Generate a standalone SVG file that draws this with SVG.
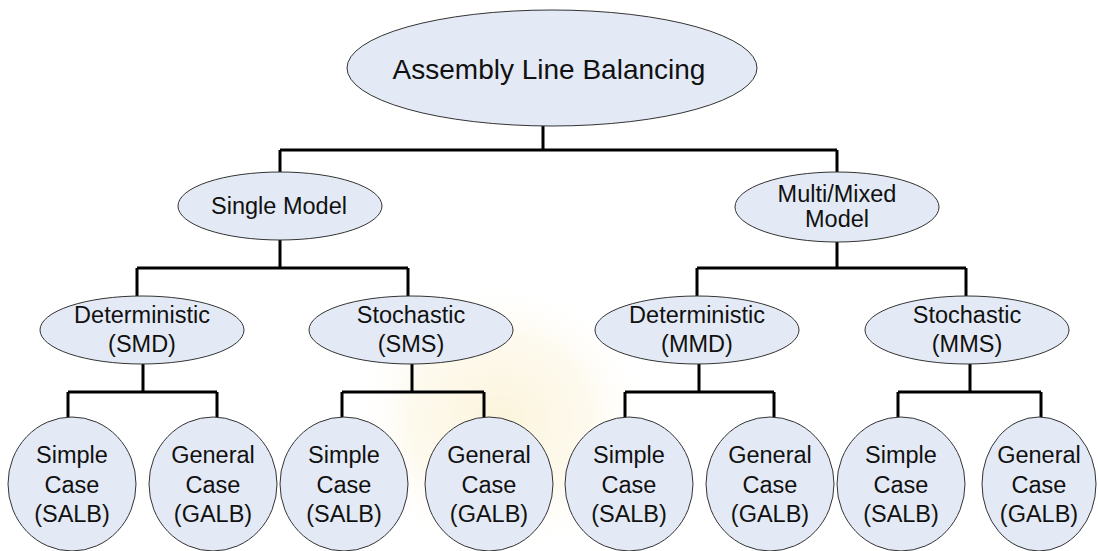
<svg xmlns="http://www.w3.org/2000/svg" width="1098" height="551" viewBox="0 0 1098 551">
  <style>
    .node { fill: #e4eaf5; stroke: #333333; stroke-width: 1; }
    .lbl { font-family: "Liberation Sans", Arial, sans-serif; font-size: 23.5px; fill: #111111; text-anchor: middle; }
    .title { font-size: 28px; }
    .wire { fill: none; stroke: #000000; stroke-width: 3; stroke-linecap: butt; stroke-linejoin: miter; }
  </style>
  <defs>
    <radialGradient id="seal-glow" cx="0.5" cy="0.5" r="0.5">
      <stop offset="0" stop-color="#fbf3d8" stop-opacity="0.9"/>
      <stop offset="0.6" stop-color="#fcf5df" stop-opacity="0.55"/>
      <stop offset="1" stop-color="#ffffff" stop-opacity="0"/>
    </radialGradient>
  </defs>
  <rect width="1098" height="551" fill="#ffffff"/>
  <!-- faint background seal -->
  <ellipse cx="500" cy="420" rx="150" ry="140" fill="url(#seal-glow)"/>

  <!-- connectors -->
  <g id="connectors" class="wire">
    <path d="M543 126 V150 M280 150 H837 M280 150 V173 M837 150 V173"/>
    <path d="M280 240 V268 M137 268 H408 M137 268 V296 M408 268 V296"/>
    <path d="M837 242 V268 M697 268 H966 M697 268 V296 M966 268 V296"/>
    <path d="M143 364 V392 M68 392 H217 M68 392 V417 M217 392 V417"/>
    <path d="M412 364 V392 M342 392 H484 M342 392 V417 M484 392 V417"/>
    <path d="M699 364 V392 M625 392 H774 M625 392 V417 M774 392 V417"/>
    <path d="M970 364 V392 M898 392 H1041 M898 392 V417 M1041 392 V417"/>
  </g>

  <!-- root -->
  <g id="alb">
    <ellipse class="node" cx="552" cy="68" rx="205" ry="58"/>
    <text class="lbl title" x="549" y="79">Assembly Line Balancing</text>
  </g>

  <!-- model type -->
  <g id="single-model">
    <ellipse class="node" cx="280" cy="206" rx="102" ry="34"/>
    <text class="lbl" x="279" y="214">Single Model</text>
  </g>
  <g id="multi-mixed-model">
    <ellipse class="node" cx="837" cy="207" rx="102" ry="35"/>
    <text class="lbl" x="837" y="202">Multi/Mixed</text>
    <text class="lbl" x="837" y="227">Model</text>
  </g>

  <!-- problem nature -->
  <g id="smd">
    <ellipse class="node" cx="142" cy="330" rx="102" ry="34"/>
    <text class="lbl" x="142" y="323">Deterministic</text>
    <text class="lbl" x="142" y="352">(SMD)</text>
  </g>
  <g id="sms">
    <ellipse class="node" cx="411" cy="330" rx="102" ry="34"/>
    <text class="lbl" x="411" y="323">Stochastic</text>
    <text class="lbl" x="411" y="352">(SMS)</text>
  </g>
  <g id="mmd">
    <ellipse class="node" cx="697" cy="330" rx="102" ry="34"/>
    <text class="lbl" x="697" y="323">Deterministic</text>
    <text class="lbl" x="697" y="352">(MMD)</text>
  </g>
  <g id="mms">
    <ellipse class="node" cx="967" cy="330" rx="102" ry="34"/>
    <text class="lbl" x="967" y="323">Stochastic</text>
    <text class="lbl" x="967" y="352">(MMS)</text>
  </g>

  <!-- cases -->
  <g id="smd-salb">
    <ellipse class="node" cx="72" cy="484" rx="64" ry="67"/>
    <text class="lbl" x="72" y="463">Simple</text>
    <text class="lbl" x="72" y="493">Case</text>
    <text class="lbl" x="72" y="522">(SALB)</text>
  </g>
  <g id="smd-galb">
    <ellipse class="node" cx="213" cy="484" rx="64" ry="67"/>
    <text class="lbl" x="213" y="463">General</text>
    <text class="lbl" x="213" y="493">Case</text>
    <text class="lbl" x="213" y="522">(GALB)</text>
  </g>
  <g id="sms-salb">
    <ellipse class="node" cx="344" cy="484" rx="64" ry="67"/>
    <text class="lbl" x="344" y="463">Simple</text>
    <text class="lbl" x="344" y="493">Case</text>
    <text class="lbl" x="344" y="522">(SALB)</text>
  </g>
  <g id="sms-galb">
    <ellipse class="node" cx="489" cy="484" rx="64" ry="67"/>
    <text class="lbl" x="489" y="463">General</text>
    <text class="lbl" x="489" y="493">Case</text>
    <text class="lbl" x="489" y="522">(GALB)</text>
  </g>
  <g id="mmd-salb">
    <ellipse class="node" cx="629" cy="484" rx="64" ry="67"/>
    <text class="lbl" x="629" y="463">Simple</text>
    <text class="lbl" x="629" y="493">Case</text>
    <text class="lbl" x="629" y="522">(SALB)</text>
  </g>
  <g id="mmd-galb">
    <ellipse class="node" cx="770" cy="484" rx="64" ry="67"/>
    <text class="lbl" x="770" y="463">General</text>
    <text class="lbl" x="770" y="493">Case</text>
    <text class="lbl" x="770" y="522">(GALB)</text>
  </g>
  <g id="mms-salb">
    <ellipse class="node" cx="901" cy="484" rx="64" ry="67"/>
    <text class="lbl" x="901" y="463">Simple</text>
    <text class="lbl" x="901" y="493">Case</text>
    <text class="lbl" x="901" y="522">(SALB)</text>
  </g>
  <g id="mms-galb">
    <ellipse class="node" cx="1039" cy="484" rx="57" ry="67"/>
    <text class="lbl" x="1039" y="463">General</text>
    <text class="lbl" x="1039" y="493">Case</text>
    <text class="lbl" x="1039" y="522">(GALB)</text>
  </g>
</svg>
